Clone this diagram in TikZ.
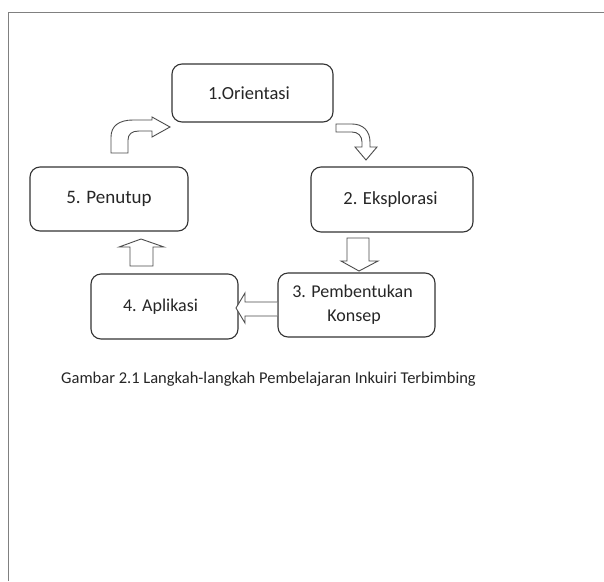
\documentclass[tikz,border=0pt]{standalone}
\usepackage{fontspec}
\setmainfont{Carlito}
\begin{document}
\begin{tikzpicture}[x=1pt,y=-1pt,
  stepbox/.style={draw=black!80, line width=1.1pt, rounded corners=10pt, fill=white, text=black!85, inner sep=0pt},
  blockarr/.style={draw=black!70, line width=0.9pt, fill=white, line join=miter},
  frameline/.style={draw=black!50, line width=1.8pt}
]
\useasboundingbox (0,0) rectangle (604,581);
\fill[white] (0,0) rectangle (604,581);
\draw[frameline] (8.5,581) -- (8.5,12.5) -- (604,12.5);

\node[stepbox, minimum width=161pt, minimum height=58pt, font=\fontsize{18.5}{22}\selectfont] (b1) at (252.5,93) {1.Orientasi\hspace*{7pt}};
\node[stepbox, minimum width=158pt, minimum height=64pt, font=\fontsize{19}{22}\selectfont] (b5) at (109,199) {5. Penutup};
\node[stepbox, minimum width=162pt, minimum height=65pt, font=\fontsize{18.5}{22}\selectfont] (b2) at (392,199.5) {2. Eksplorasi\hspace*{3pt}};
\node[stepbox, minimum width=147pt, minimum height=65pt, font=\fontsize{18}{22}\selectfont] (b4) at (164.5,306.5) {4. Aplikasi\hspace*{8pt}};
\node[stepbox, minimum width=157pt, minimum height=64pt, align=center, font=\fontsize{18}{24}\selectfont] (b3) at (356.5,305) {3. Pembentukan\hspace*{8pt}\\Konsep\hspace*{5pt}};

% bent arrow 5 -> 1
\draw[blockarr] (111,153) -- (111,137) .. controls (111,126) and (119,120) .. (133,120) -- (152,120) -- (152,117) -- (170,127) -- (152,137) -- (152,131) -- (139,131) .. controls (132,131) and (128,134) .. (128,140) -- (128,153) -- cycle;
% bent arrow 1 -> 2
\draw[blockarr] (336,124) -- (352,124) .. controls (363,124) and (370,131) .. (370,142) -- (370,147) -- (377,147) -- (366,160) -- (355,147) -- (362,147) -- (362,142) .. controls (362,136) and (358,132) .. (352,132) -- (336,132) -- cycle;
% down arrow 2 -> 3
\draw[blockarr] (347,238) -- (369,238) -- (369,261) -- (378,261) -- (359,271) -- (341,261) -- (347,261) -- cycle;
% left arrow 3 -> 4
\draw[blockarr] (277,302) -- (245,302) -- (245,293) -- (236,308) -- (245,323) -- (245,316) -- (277,316);
% up arrow 4 -> 5
\draw[blockarr] (130,266) -- (130,247) -- (119,247) -- (141,239) -- (164,247) -- (153,247) -- (153,266) -- cycle;

\node[anchor=base west, inner sep=0pt, text=black!85, font=\fontsize{16.5}{20}\selectfont] (cap) at (61,383) {Gambar 2.1 Langkah-langkah Pembelajaran Inkuiri Terbimbing};
\end{tikzpicture}
\end{document}
